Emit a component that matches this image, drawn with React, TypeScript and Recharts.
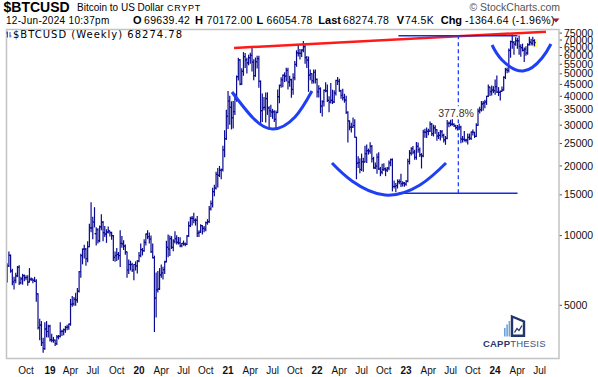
import React from "react";
import {
  Bar,
  ComposedChart,
  Line,
  ReferenceArea,
  ReferenceDot,
  ReferenceLine,
  XAxis,
  YAxis,
} from "recharts";

const SANS = "'Liberation Sans', Arial, sans-serif";
const WIDE = "'DejaVu Sans', Verdana, sans-serif";
const BAR = "#0b0b91";
const ARC = "#1f3ff5";

// first weekly bar starts Mon 16-Jul-2018
const FIRST_WEEK = Date.UTC(2018, 6, 16);
const WEEK_MS = 7 * 86400000;
const FIRST_OPEN = 6350;

// weekly bars: [high, low, close]
const w2018 = [
  [7560, 6300, 7400], [8490, 7360, 8220], [8250, 6950, 7030], [7150, 6130, 6310],
  [6600, 5880, 6400], [6880, 6250, 6700], [7350, 6650, 7300], [7410, 6150, 6250],
  [6600, 6200, 6500], [6800, 6170, 6710], [6750, 6380, 6580], [6700, 6450, 6590],
  [6700, 6100, 6300], [7200, 6300, 6480], [6550, 6400, 6480], [6500, 6250, 6400],
  [6600, 6330, 6350], [6450, 5200, 5600], [5600, 3950, 4000], [4350, 3550, 4100],
  [4250, 3350, 3450], [3600, 3130, 3250], [4200, 3230, 3950], [4250, 3650, 3850],
  [4100, 3650, 4050],
];
const w2019 = [
  [4100, 3500, 3550], [3750, 3480, 3530], [3630, 3460, 3530], [3540, 3350, 3410],
  [3700, 3380, 3650], [3700, 3580, 3670], [4200, 3650, 3850], [3900, 3700, 3860],
  [3950, 3730, 3920], [4050, 3820, 4010], [4100, 3920, 4020], [4150, 3940, 4140],
  [5300, 4100, 5050], [5460, 4950, 5070], [5400, 5000, 5300], [5630, 5000, 5280],
  [5900, 5150, 5750], [7000, 5700, 6980], [8300, 6600, 8200], [8750, 7550, 8740],
  [9090, 8000, 8740], [8800, 7450, 7950], [9400, 7700, 8950], [11200, 8950, 10800],
  [13880, 10400, 10800], [12000, 9700, 11450], [13200, 10900, 10200], [10800, 9100, 10600],
  [10700, 9300, 9500], [11000, 9400, 10900], [12300, 10600, 11400], [11500, 9500, 10300],
  [10950, 9900, 10150], [10600, 9350, 10350], [10900, 10250, 10480], [10450, 9950, 10300],
  [10350, 9650, 10000], [10000, 7800, 8050], [8500, 7750, 8200], [8800, 7800, 8300],
  [8450, 7900, 8200], [10500, 7350, 9250], [9900, 8900, 9200], [9500, 8700, 9000],
  [9100, 8300, 8500], [8500, 6600, 7100], [7850, 6850, 7500], [7750, 7100, 7500],
  [7600, 7000, 7100], [7500, 6450, 7500], [7700, 7100, 7400], [7800, 6900, 7760],
];
const w2020 = [
  [8450, 7700, 8190], [9200, 8100, 8700], [8800, 8250, 8600], [9600, 8550, 9350],
  [10150, 9100, 10150], [10500, 9700, 9900], [10250, 9300, 9660], [9960, 8450, 8520],
  [9200, 8000, 8030], [8150, 3850, 5370], [6900, 4450, 5830], [7000, 5700, 5880],
  [7200, 5850, 6770], [7470, 6600, 6900], [7300, 6500, 7130], [7750, 6850, 7700],
  [9450, 7700, 8900], [10050, 8100, 8750], [9950, 8200, 9700], [9900, 8800, 8900],
  [9600, 8600, 9450], [10400, 9300, 9700], [9990, 9200, 9350], [9800, 9200, 9300],
  [9780, 8950, 9020], [9250, 8950, 9250], [9470, 9100, 9200], [9300, 9050, 9170],
  [10000, 9150, 9950], [11450, 9900, 11050], [12000, 10950, 11880], [12100, 11100, 11880],
  [12480, 11350, 11650], [11800, 11100, 11650], [12090, 9900, 10250], [10500, 9900, 10330],
  [11150, 10300, 11050], [11050, 10150, 10750], [10950, 10400, 10680], [11450, 10500, 11380],
  [11720, 11200, 11500], [13350, 11400, 13030], [14100, 12900, 13750], [16000, 13300, 15480],
  [16500, 14850, 16050], [18800, 15900, 18400], [19500, 16200, 18200], [19900, 18000, 19150],
  [19400, 17600, 19270], [24300, 19000, 23450], [28400, 21900, 26250], [34800, 26000, 32780],
];
const w2021 = [
  [41950, 29000, 38150], [40000, 30300, 35800], [37850, 28900, 32300], [38000, 29200, 34300],
  [40950, 33400, 38900], [49000, 38050, 48600], [58350, 47000, 57400], [57600, 44900, 45100],
  [52650, 45000, 51200], [61800, 49300, 59300], [61200, 53300, 57500], [58450, 50400, 55800],
  [60200, 54700, 58750], [61400, 55500, 60100], [64850, 51400, 56200], [57500, 47100, 49100],
  [58500, 48800, 56400], [59600, 53000, 58200], [59600, 43800, 46400], [46600, 30000, 34700],
  [40900, 31100, 35700], [39500, 34900, 35800], [41300, 31000, 39100], [41400, 33400, 35600],
  [36000, 28800, 34700], [36600, 32700, 34200], [35100, 32100, 34250], [34650, 31100, 31800],
  [34550, 29300, 34000], [42600, 34000, 39850], [44700, 37500, 44600], [48150, 43800, 47100],
  [49400, 43950, 49300], [50500, 46300, 48900], [52900, 46600, 51750], [52900, 43000, 46050],
  [48800, 44150, 47250], [47400, 39600, 42800], [50000, 40800, 48200], [56500, 47100, 54900],
  [62900, 53900, 61550], [67000, 59700, 61300], [63700, 58000, 61300], [63500, 59400, 63300],
  [69000, 62300, 65500], [66300, 55600, 58700], [59400, 53300, 57300], [59100, 42000, 49400],
  [51900, 47100, 50100], [50100, 45500, 46700], [51900, 45600, 50800], [52000, 45700, 47300],
];
const w2022 = [
  [47500, 39700, 41800], [44400, 39700, 43100], [43500, 34000, 36300], [38300, 32900, 37900],
  [42600, 36300, 42400], [45800, 41800, 42200], [44700, 38000, 38400], [39800, 34300, 37700],
  [45400, 37400, 38400], [42500, 37200, 37800], [42300, 37600, 41300], [46900, 40500, 46800],
  [48200, 45000, 46400], [47400, 42100, 42200], [42500, 39200, 40400], [42900, 38500, 39500],
  [40800, 37700, 38500], [40000, 33700, 34100], [34300, 25400, 31300], [31300, 28700, 29400],
  [30600, 28000, 29450], [32200, 29300, 29900], [31700, 26600, 26600], [26600, 17600, 20550],
  [21900, 19700, 20700], [21500, 18700, 19300], [22500, 19100, 20850], [21600, 18950, 20800],
  [24300, 20800, 22600], [24650, 20700, 23300], [23650, 22500, 23200], [25200, 22700, 24300],
  [24500, 20800, 21500], [21800, 19550, 19600], [20600, 19500, 19950], [22500, 18600, 21800],
  [22800, 19300, 19400], [19700, 18150, 18800], [20350, 18500, 19300], [20450, 19100, 19450],
  [19600, 18150, 19200], [19700, 18900, 19550], [21000, 19250, 20600], [21450, 20050, 21300],
  [21450, 15600, 16300], [17200, 16050, 16300], [16800, 15476, 16450], [17400, 16050, 17100],
  [17450, 16750, 17100], [18400, 16300, 16750], [17100, 16400, 16850], [16950, 16350, 16700],
];
const w2023 = [
  [17300, 16500, 17150], [21400, 17100, 20900], [23300, 20400, 22700], [23950, 22300, 23750],
  [24250, 22600, 22950], [23400, 21400, 21800], [25250, 21400, 24300], [25100, 22900, 23500],
  [23900, 21950, 22400], [22600, 19600, 22100], [28500, 21900, 28000], [28800, 26600, 27950],
  [29200, 26550, 28200], [28800, 27250, 28300], [31000, 28200, 30300], [30500, 27100, 27600],
  [30000, 26950, 29200], [29800, 27700, 28700], [28700, 25800, 26900], [27900, 26300, 27100],
  [28450, 25900, 28100], [28450, 26600, 27100], [27400, 25400, 25900], [26800, 24800, 26300],
  [31400, 26200, 30500], [31000, 29500, 30600], [31500, 29800, 30300], [31800, 29950, 30250],
  [30400, 29600, 29800], [29950, 28850, 29300], [29900, 28600, 29050], [30250, 28750, 29400],
  [29700, 25200, 26100], [26800, 25350, 26050], [28150, 25650, 25850], [26100, 25350, 25850],
  [27500, 24900, 26550], [27450, 26000, 26300], [28000, 26000, 27980], [28600, 27200, 27950],
  [27950, 26550, 26850], [30400, 26800, 29990], [35200, 29900, 34500], [35900, 33900, 35000],
  [37950, 34550, 37050], [38000, 34800, 37400], [38400, 35650, 37800], [40000, 36900, 39950],
  [44700, 39950, 43800], [43800, 40300, 41900], [44300, 40500, 42500], [44000, 41500, 42300],
];
const w2024 = [
  [47000, 40800, 44000], [49000, 41500, 41700], [43600, 40300, 41550], [42200, 38500, 42000],
  [43850, 41900, 42600], [48600, 42500, 48300], [52800, 47700, 52100], [52950, 50500, 51700],
  [64000, 50900, 63100], [69200, 59000, 68900], [73800, 64500, 68400], [68900, 60800, 67200],
  [71600, 66500, 69600], [71300, 64500, 69400], [72800, 60700, 65700], [66800, 59600, 64900],
  [67200, 62800, 63100], [64700, 56500, 63900], [65500, 60200, 61500], [67500, 60700, 66900],
  [71950, 66600, 68500], [70600, 66700, 67800], [71950, 66600, 69650], [70172, 66054, 68274.78],
];

const yTicks = [5000, 10000, 15000, 20000, 25000, 30000, 35000, 40000, 45000, 50000, 55000, 60000, 65000, 70000, 75000];

const monthLabels = [
  "Oct", "19", "Apr", "Jul", "Oct", "20", "Apr", "Jul", "Oct", "21", "Apr", "Jul",
  "Oct", "22", "Apr", "Jul", "Oct", "23", "Apr", "Jul", "Oct", "24", "Apr", "Jul",
];
const monthStarts = [
  "2018-10-01", "2019-01-01", "2019-04-01", "2019-07-01", "2019-10-01", "2020-01-01",
  "2020-04-01", "2020-07-01", "2020-10-01", "2021-01-01", "2021-04-01", "2021-07-01",
  "2021-10-01", "2022-01-01", "2022-04-01", "2022-07-01", "2022-10-01", "2023-01-01",
  "2023-04-01", "2023-07-01", "2023-10-01", "2024-01-01", "2024-04-01", "2024-07-01",
];

// annotations, x in weeks since the first bar
const arc1 = [[131.3, 41740], [143.6, 32220], [155.3, 28880], [168.1, 32550], [178.0, 42160]];
const arc2 = [[189.7, 20590], [201.4, 17220], [220.7, 14980], [241.1, 16540], [256.3, 20590]];
const arc3 = [[283.2, 66630], [289.0, 57390], [301.3, 51440], [312.4, 58550], [317.6, 67290]];
const resistance = [[132.5, 64670], [314.7, 76050]];
const rangeTop = 73090;
const rangeBottom = 15250;
const rangeFrom = 228.5;
const rangeTo = 298.1;
const measureAt = 263.5;

// first tick is the first weekly bar of each labelled month
const tickIdx = monthStarts.map((d) => Math.ceil((Date.parse(d) - FIRST_WEEK) / WEEK_MS));

let prevClose = FIRST_OPEN;
const bars = [...w2018, ...w2019, ...w2020, ...w2021, ...w2022, ...w2023, ...w2024].map(([h, l, c], i) => {
  const o = prevClose;
  prevClose = c;
  return { i, o, h, l, c, range: [l, h] };
});

const toPts = (arr: number[][]) => arr.map(([i, v]) => ({ i, v }));

function OhlcShape(props: any) {
  const { x, y, width, height, payload } = props;
  if (!payload || !isFinite(y) || !isFinite(height)) return null;
  const cx = x + width / 2;
  const top = Math.min(y, y + height);
  const h = Math.abs(height);
  const span = Math.log(payload.h) - Math.log(payload.l);
  const py = (v: number) => top + (span > 0 ? (h * (Math.log(payload.h) - Math.log(v))) / span : 0);
  const yo = py(payload.o);
  const yc = py(payload.c);
  return (
    <g stroke={BAR} strokeWidth={1.2}>
      <line x1={cx} x2={cx} y1={top - 0.5} y2={top + h + 0.5} />
      <line x1={cx - 1.2} x2={cx} y1={yo} y2={yo} />
      <line x1={cx} x2={cx + 1.2} y1={yc} y2={yc} />
    </g>
  );
}

function MonthTick(props: any) {
  const { x, y, payload } = props;
  const label = monthLabels[tickIdx.indexOf(payload.value)] ?? "";
  const isYear = /^\d/.test(label);
  return (
    <text x={x} y={y + 15} textAnchor="middle" fontSize={10} fontWeight={isYear ? 700 : 400} fill="#111" fontFamily={SANS}>
      {label}
    </text>
  );
}

function PriceTick(props: any) {
  const { x, y, payload } = props;
  return (
    <text x={x} y={y} dy={3.6} textAnchor="start" fontSize={10.5} fill="#111" fontFamily={SANS}>
      {payload.value}
    </text>
  );
}

function PctLabel(props: any) {
  const { cx, cy } = props;
  return (
    <g>
      <rect x={cx - 19} y={cy - 6.5} width={38} height={13} fill="#fff" />
      <text x={cx} y={cy + 4} textAnchor="middle" fontSize={10.5} fill="#333" fontFamily={SANS}>
        377.8%
      </text>
    </g>
  );
}

export default function App() {
  return (
    <div style={{ position: "absolute", left: 0, top: 0, width: 598, height: 377, background: "#fff", fontFamily: SANS }}>
      <ComposedChart width={598} height={377} data={bars} margin={{ top: 29, right: 0, bottom: 0, left: 6 }}>
        <XAxis
          dataKey="i"
          type="number"
          domain={[-0.7, 322.3]}
          allowDataOverflow
          ticks={tickIdx}
          interval={0}
          tick={<MonthTick />}
          tickLine={false}
          tickSize={0}
          tickMargin={0}
          axisLine={false}
          height={18}
        />
        <YAxis
          orientation="right"
          scale="log"
          domain={[2929, 78120]}
          allowDataOverflow
          ticks={yTicks}
          interval={0}
          tick={<PriceTick />}
          tickSize={3}
          tickMargin={2}
          tickLine={{ stroke: "#555" }}
          axisLine={false}
          width={39}
        />
        <ReferenceArea x1={306.8} x2={309.6} y1={64860} y2={70700} fill="#ffff80" fillOpacity={1} stroke="none" />
        <Bar dataKey="range" shape={OhlcShape} barSize={2} isAnimationActive={false} />
        <ReferenceLine
          segment={[{ x: resistance[0][0], y: resistance[0][1] }, { x: resistance[1][0], y: resistance[1][1] }]}
          stroke="#ff1a1a"
          strokeWidth={2.5}
        />
        <ReferenceLine segment={[{ x: rangeFrom, y: rangeTop }, { x: rangeTo, y: rangeTop }]} stroke="#1030e0" strokeWidth={1.5} />
        <ReferenceLine segment={[{ x: rangeFrom, y: rangeBottom }, { x: rangeTo, y: rangeBottom }]} stroke="#1030e0" strokeWidth={1.5} />
        <ReferenceLine
          segment={[{ x: measureAt, y: rangeBottom }, { x: measureAt, y: rangeTop }]}
          stroke="#2040ff"
          strokeWidth={1.3}
          strokeDasharray="4 3"
        />
        <ReferenceDot x={measureAt - 1.3} y={33970} r={0} shape={PctLabel} />
        <Line data={toPts(arc1)} dataKey="v" type="natural" stroke={ARC} strokeWidth={3} dot={false} isAnimationActive={false} />
        <Line data={toPts(arc2)} dataKey="v" type="natural" stroke={ARC} strokeWidth={3} dot={false} isAnimationActive={false} />
        <Line data={toPts(arc3)} dataKey="v" type="natural" stroke={ARC} strokeWidth={3} dot={false} isAnimationActive={false} />
      </ComposedChart>

      <svg width={598} height={377} style={{ position: "absolute", left: 0, top: 0, pointerEvents: "none" }} fontFamily={SANS}>
        <rect x={6.5} y={29.5} width={552.5} height={329} fill="none" stroke="#c3c3c3" strokeWidth={1.5} />
        <text x={3.5} y={11.5} fontSize={14} fontWeight={700} fill="#000">$BTCUSD</text>
        <text x={77} y={11} fontSize={10} fill="#000">Bitcoin to US Dollar</text>
        <text x={167} y={11} fontSize={9} letterSpacing={0.7} fill="#000">CRYPT</text>
        <text x={560} y={11} textAnchor="end" fontSize={10.5} fill="#555">© StockCharts.com</text>
        <text y={24} fontSize={10.5} letterSpacing={0.3} fill="#000">
          <tspan x={6} fontSize={10}>12-Jun-2024 10:37pm</tspan>
          <tspan x={133} fontSize={11} fontWeight={700} letterSpacing={0}>O</tspan>
          <tspan x={144}>69639.42</tspan>
          <tspan x={195} fontSize={11} fontWeight={700} letterSpacing={0}>H</tspan>
          <tspan x={206.5}>70172.00</tspan>
          <tspan x={256.5} fontSize={11} fontWeight={700} letterSpacing={0}>L</tspan>
          <tspan x={266.5}>66054.78</tspan>
          <tspan x={318.3} fontSize={11} fontWeight={700} letterSpacing={0}>Last</tspan>
          <tspan x={343}>68274.78</tspan>
          <tspan x={396.7} fontSize={11} fontWeight={700} letterSpacing={0}>V</tspan>
          <tspan x={405}>74.5K</tspan>
          <tspan x={440.7} fontSize={11} fontWeight={700} letterSpacing={0}>Chg</tspan>
          <tspan x={465}>-1364.64 (-1.96%)</tspan>
        </text>
        <polygon points="552.5,18.5 559.5,18.5 556,22.5" fill="#9b1538" />
        <g stroke="#3050d0" strokeWidth={1}>
          <line x1={7.5} x2={7.5} y1={31.5} y2={37.5} />
          <line x1={6} x2={7.5} y1={33} y2={33} />
          <line x1={10} x2={10} y1={32} y2={37.5} />
          <line x1={10} x2={11.5} y1={36} y2={36} />
        </g>
        <text x={13} y={37.5} fontSize={10} letterSpacing={1} fontFamily={WIDE} fill="#000">$BTCUSD (Weekly) 68274.78</text>
        <g>
          <rect x={504} y={328} width={1.6} height={8.5} fill="#6aa3dc" />
          <rect x={506.3} y={324.5} width={1.6} height={12} fill="#6aa3dc" />
          <rect x={508.6} y={321} width={1.6} height={15.5} fill="#6aa3dc" />
          <polygon points="512,316.5 524,321.5 524,335.8 512,335.8" fill="#fff" stroke="#22366b" strokeWidth={2.4} />
          <polyline points="514.5,332.5 517,328.5 519,330.5 522,325.5" fill="none" stroke="#22366b" strokeWidth={1.3} />
        </g>
        <text x={483} y={346.5} fontSize={9.5} letterSpacing={0.2}>
          <tspan fontWeight={700} fill="#263a6b">CAPP</tspan>
          <tspan fill="#3e5585">THESIS</tspan>
        </text>
      </svg>
    </div>
  );
}
